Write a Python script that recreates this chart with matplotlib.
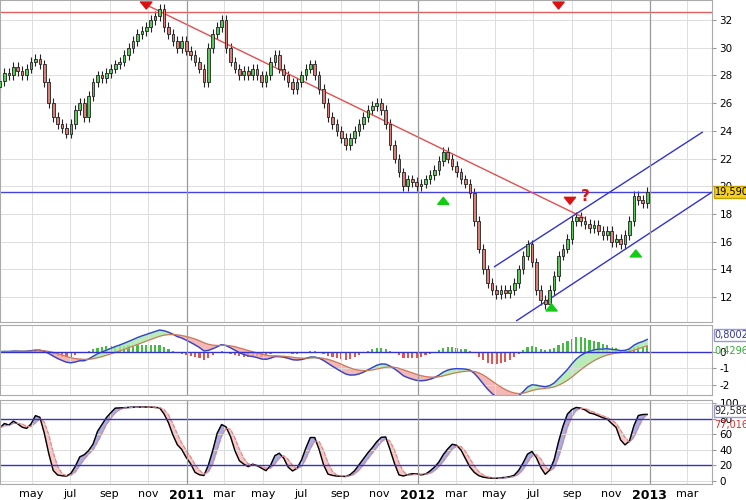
import numpy as np
import pandas as pd
import matplotlib
matplotlib.use("Agg")
import matplotlib.pyplot as plt
import matplotlib.dates as mdates

plt.rcParams["axes.unicode_minus"] = False

# weekly closes
closes = [27.6, 28.2, 28.0, 28.6, 28.3,
          28, 28.5, 29, 29.2, 28.8, 27.5, 26, 25, 24.5, 24.2, 23.8, 24.5, 25.5, 26, 25,
          26.5, 27.5, 28, 27.8, 28.2, 28.5, 28.8, 29, 29.5, 30, 30.5, 31, 31.2, 31.5, 32,
          32.3, 32.8, 31.5, 31, 30.5, 30, 30.5, 29.8, 29.5, 29, 28.5, 27.5, 30, 31, 31.5,
          32, 30, 29, 28.5, 28, 28.3, 28, 28.5, 28, 27.5, 28, 29, 29.5, 28.5, 28, 27.5,
          27, 27.5, 28, 28.5, 28.8, 28, 27, 26, 25, 24.5, 24, 23.5, 23, 23.5, 24, 24.5,
          25, 25.5, 25.8, 26, 25.5, 24.5, 23, 22, 21, 20, 20.5, 20.3, 20, 20.2, 20.5,
          20.8, 21.2, 21.8, 22.5, 22, 21.5, 21, 20.5, 20.2, 19.5, 17.5, 15.5, 14, 13,
          12.5, 12.2, 12.5, 12.3, 12.5, 13, 14, 15, 15.8, 14.5, 12.5, 11.8, 11.5, 12.5,
          13.5, 15, 15.5, 16.2, 17.5, 17.8, 17.5, 17.3, 17, 17.2, 16.8, 16.5, 16.8, 16,
          16.2, 15.8, 16.5, 17.5, 19.3, 19, 18.8, 19.6]
wick = 0.35
last_price = 19.59
resistance = 32.6

downtrend_dates = ["2010-10-20", "2012-09-20"]
downtrend_vals = [33.3, 17.7]
chan_up_dates = ["2012-05-01", "2013-03-25"]
chan_up_vals = [14.2, 23.9]
chan_lo_dates = ["2012-06-05", "2013-04-20"]
chan_lo_vals = [10.3, 19.9]

down_arrows = [("2010-10-29", 33.4), ("2012-08-10", 33.4), ("2012-08-28", 19.3)]
up_arrows = [("2012-02-10", 18.6), ("2012-07-30", 10.9), ("2012-12-10", 14.8)]

n = len(closes)
dates = pd.date_range(end="2012-12-28", periods=n, freq="7D")
c = np.array(closes)
o = np.r_[c[0] - 0.4, c[:-1]]
hi = np.maximum(o, c) + wick
lo = np.minimum(o, c) - wick

fig = plt.figure(figsize=(7.46, 5.0), dpi=100)
ax1 = fig.add_axes([0.0, 0.356, 0.955, 0.644])
ax2 = fig.add_axes([0.0, 0.21, 0.955, 0.14], sharex=ax1)
ax3 = fig.add_axes([0.0, 0.032, 0.955, 0.168], sharex=ax1)

x = mdates.date2num(dates)
for xi, oi, ci, h, l in zip(x, o, c, hi, lo):
    col = "#5cc85c" if ci >= oi else "#d98078"
    ax1.vlines(xi, l, h, color="#222222", lw=0.8, zorder=2)
    ax1.bar(xi, max(abs(ci - oi), 0.08), bottom=min(oi, ci), width=4.2,
            color=col, edgecolor="#222222", lw=0.6, zorder=3)

ax1.axhline(resistance, color="#e06060", lw=1)
ax1.axhline(last_price, color="#4444dd", lw=1)
ax1.plot(pd.to_datetime(downtrend_dates), downtrend_vals, color="#e05050", lw=1)
ax1.plot(pd.to_datetime(chan_up_dates), chan_up_vals, color="#3333cc", lw=1)
ax1.plot(pd.to_datetime(chan_lo_dates), chan_lo_vals, color="#3333cc", lw=1)
for d, v in down_arrows:
    ax1.annotate("", xy=(pd.Timestamp(d), v - 0.8), xytext=(pd.Timestamp(d), v + 0.1),
                 arrowprops=dict(arrowstyle="simple,head_width=0.8,head_length=0.5", color="#dd1111"))
for d, v in up_arrows:
    ax1.annotate("", xy=(pd.Timestamp(d), v + 0.8), xytext=(pd.Timestamp(d), v - 0.1),
                 arrowprops=dict(arrowstyle="simple,head_width=0.8,head_length=0.5", color="#11cc11"))
ax1.text(pd.Timestamp("2012-09-14"), 18.95, "?", color="#dd1111", fontsize=11, fontweight="bold")
ax1.set_ylim(10.2, 33.45)
ax1.set_yticks(range(12, 33, 2))
ax1.text(1.003, last_price, "19,590", transform=ax1.get_yaxis_transform(), fontsize=7,
         va="center", bbox=dict(boxstyle="square,pad=0.1", fc="#f5d020", ec="#c0a000"))

# MACD
s = pd.Series(c)
macd = s.ewm(span=12).mean() - s.ewm(span=26).mean()
sig = macd.ewm(span=9).mean()
hist = macd - sig
ax2.bar(x, hist, width=3.5, color=np.where(hist >= 0, "#44bb44", "#dd5555"))
ax2.plot(x, macd, color="#3344cc", lw=1)
ax2.plot(x, sig, color="#cc7755", lw=0.8)
ax2.fill_between(x, macd, sig, where=macd >= sig, color="#a8e8a8", alpha=0.8, interpolate=True)
ax2.fill_between(x, macd, sig, where=macd < sig, color="#f0a8a8", alpha=0.8, interpolate=True)
ax2.axhline(0, color="#3333cc", lw=1)
ax2.set_ylim(-2.6, 1.6)
ax2.set_yticks([-2, -1, 0])
ax2.text(1.003, 0.93, "0,8002", transform=ax2.transAxes, fontsize=7, color="#333399", va="top",
         bbox=dict(boxstyle="square,pad=0.1", fc="white", ec="#9999cc"))
ax2.text(1.003, 0.70, "0,4296", transform=ax2.transAxes, fontsize=7, color="#33aa33", va="top")

# Stochastic
hh = pd.Series(hi).rolling(14, min_periods=1).max()
ll = pd.Series(lo).rolling(14, min_periods=1).min()
k = ((s - ll) / (hh - ll) * 100).rolling(3, min_periods=1).mean()
dl = k.rolling(3, min_periods=1).mean()
ax3.plot(x, k, color="black", lw=1)
ax3.plot(x, dl, color="#dd8888", lw=0.8, ls="--")
ax3.fill_between(x, k, dl, where=k >= dl, color="#9999dd", alpha=0.8, interpolate=True)
ax3.fill_between(x, k, dl, where=k < dl, color="#f4bbbb", alpha=0.8, interpolate=True)
ax3.axhline(80, color="#3333cc", lw=1)
ax3.axhline(20, color="#3333cc", lw=1)
ax3.set_ylim(-4, 104)
ax3.set_yticks([0, 20, 40, 60, 80, 100])
ax3.text(1.003, 0.93, "92,586", transform=ax3.transAxes, fontsize=7, color="#222222", va="top",
         bbox=dict(boxstyle="square,pad=0.1", fc="white", ec="#9999cc"))
ax3.text(1.003, 0.76, "77,016", transform=ax3.transAxes, fontsize=7, color="#cc3333", va="top")

ticks = pd.date_range("2010-05-01", "2013-03-01", freq="2MS")
labels = [str(t.year) if t.month == 1 else t.strftime("%b").lower() for t in ticks]
for ax in (ax1, ax2, ax3):
    ax.set_facecolor("white")
    ax.yaxis.tick_right()
    ax.tick_params(axis="y", labelsize=7.5, length=3, color="#999999", pad=2)
    ax.tick_params(axis="x", length=0)
    ax.grid(True, color="#dddddd", lw=0.7)
    for t in ticks:
        if t.month == 1:
            ax.axvline(t, color="#999999", lw=0.9)
    for sp in ax.spines.values():
        sp.set_color("#aaaaaa")
    ax.set_xticks(ticks)
for ax in (ax1, ax2):
    plt.setp(ax.get_xticklabels(), visible=False)
ax3.set_xticklabels(labels, fontsize=8)
for lab, t in zip(ax3.get_xticklabels(), ticks):
    if t.month == 1:
        lab.set_fontweight("bold")
        lab.set_fontsize(9)
ax1.set_xlim(pd.Timestamp("2010-03-12"), pd.Timestamp("2013-04-10"))

fig.savefig("out.png", dpi=100)
